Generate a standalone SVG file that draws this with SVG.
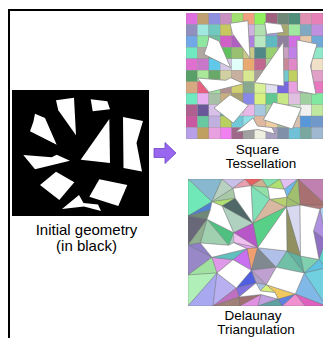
<svg xmlns="http://www.w3.org/2000/svg" xmlns:xlink="http://www.w3.org/1999/xlink" width="323" height="338" viewBox="0 0 323 338">
<style>
  .lbl{font-family:"Liberation Sans",Arial,sans-serif;font-size:13.5px;fill:#000;text-anchor:middle}
  .big{font-size:15px}
  .frame{stroke:#000;stroke-width:2;fill:none}
  .tri polygon{stroke:#6a6a6a;stroke-width:0.5;stroke-opacity:0.7}
  .cells rect{stroke:#777;stroke-width:0.4;stroke-opacity:0.6}
  .shp{fill:#fff}
</style>
<defs>
  <g id="shapes" class="shp">
    <polygon points="56,100.3 74,97.7 76,135.3 58.3,110.3"/>
    <polygon points="90.7,99.3 107.3,101.3 110,109.3 92.7,111.3"/>
    <polygon points="35,113.7 45,118 56.7,144.7 30,131.3 33.3,122"/>
    <polygon points="109.3,119 110,163 80.7,159.7"/>
    <polygon points="123,117 143,121 136.5,143 142,171.5 123.5,168"/>
    <polygon points="23.3,155 51.7,157.3 56.7,154.7 70,160.7 35,169.3"/>
    <polygon points="56,171.7 74.3,182.3 59.3,200 40,185"/>
    <polygon points="99.3,179.3 127.3,185 118.3,206 89.3,196.7"/>
    <polygon points="62,209 79,195 83.5,203 98,204.5 101,211 84,206.5"/>
  </g>
  <clipPath id="clipD"><rect x="188" y="179" width="135" height="127"/></clipPath>
  <clipPath id="clipT"><rect x="186" y="13" width="137" height="126"/></clipPath>
</defs>

<g id="frame">
  <line class="frame" x1="8" y1="10" x2="323" y2="10"/>
  <line class="frame" x1="9" y1="9" x2="9" y2="338"/>
</g>

<g id="initial-geometry">
  <rect x="12" y="90" width="137" height="126" fill="#000"/>
  <use xlink:href="#shapes" href="#shapes"/>
  <text class="lbl big" x="86.5" y="235">Initial geometry</text>
  <text class="lbl big" x="86.5" y="250.5">(in black)</text>
</g>

<g id="square-tessellation">
  <g clip-path="url(#clipT)" class="cells">
    <g transform="translate(186,13)">
      <rect x="0" y="0" width="11.42" height="11.45" fill="#e070e0"/><rect x="11.42" y="0" width="11.42" height="11.45" fill="#c0a070"/><rect x="22.83" y="0" width="11.42" height="11.45" fill="#9090e0"/><rect x="34.25" y="0" width="11.42" height="11.45" fill="#c890c0"/><rect x="45.67" y="0" width="11.42" height="11.45" fill="#a0e070"/><rect x="57.08" y="0" width="11.42" height="11.45" fill="#f0a080"/><rect x="68.5" y="0" width="11.42" height="11.45" fill="#90f060"/><rect x="79.92" y="0" width="11.42" height="11.45" fill="#a06080"/><rect x="91.33" y="0" width="11.42" height="11.45" fill="#708878"/><rect x="102.75" y="0" width="11.42" height="11.45" fill="#50907a"/><rect x="114.17" y="0" width="11.42" height="11.45" fill="#e090b0"/><rect x="125.58" y="0" width="11.42" height="11.45" fill="#e880b8"/>
      <rect x="0" y="11.45" width="11.42" height="11.45" fill="#9090c0"/><rect x="11.42" y="11.45" width="11.42" height="11.45" fill="#a0e8e0"/><rect x="22.83" y="11.45" width="11.42" height="11.45" fill="#70c8c0"/><rect x="34.25" y="11.45" width="11.42" height="11.45" fill="#c8c860"/><rect x="45.67" y="11.45" width="11.42" height="11.45" fill="#e0c0e0"/><rect x="57.08" y="11.45" width="11.42" height="11.45" fill="#d0b0e0"/><rect x="68.5" y="11.45" width="11.42" height="11.45" fill="#b0e0b0"/><rect x="79.92" y="11.45" width="11.42" height="11.45" fill="#a0a0e8"/><rect x="91.33" y="11.45" width="11.42" height="11.45" fill="#a8a870"/><rect x="102.75" y="11.45" width="11.42" height="11.45" fill="#a0e8a0"/><rect x="114.17" y="11.45" width="11.42" height="11.45" fill="#80a8c0"/><rect x="125.58" y="11.45" width="11.42" height="11.45" fill="#c090e0"/>
      <rect x="0" y="22.9" width="11.42" height="11.45" fill="#70a8e8"/><rect x="11.42" y="22.9" width="11.42" height="11.45" fill="#90e8a0"/><rect x="22.83" y="22.9" width="11.42" height="11.45" fill="#70c0a0"/><rect x="34.25" y="22.9" width="11.42" height="11.45" fill="#d060c8"/><rect x="45.67" y="22.9" width="11.42" height="11.45" fill="#b060c0"/><rect x="57.08" y="22.9" width="11.42" height="11.45" fill="#b080e0"/><rect x="68.5" y="22.9" width="11.42" height="11.45" fill="#b8e8c0"/><rect x="79.92" y="22.9" width="11.42" height="11.45" fill="#60b8c0"/><rect x="91.33" y="22.9" width="11.42" height="11.45" fill="#9080a0"/><rect x="102.75" y="22.9" width="11.42" height="11.45" fill="#d070e0"/><rect x="114.17" y="22.9" width="11.42" height="11.45" fill="#e8c8a8"/><rect x="125.58" y="22.9" width="11.42" height="11.45" fill="#70a8d8"/>
      <rect x="0" y="34.35" width="11.42" height="11.45" fill="#70e8c0"/><rect x="11.42" y="34.35" width="11.42" height="11.45" fill="#b0a8a0"/><rect x="22.83" y="34.35" width="11.42" height="11.45" fill="#60c090"/><rect x="34.25" y="34.35" width="11.42" height="11.45" fill="#60c060"/><rect x="45.67" y="34.35" width="11.42" height="11.45" fill="#98c070"/><rect x="57.08" y="34.35" width="11.42" height="11.45" fill="#c8c888"/><rect x="68.5" y="34.35" width="11.42" height="11.45" fill="#508888"/><rect x="79.92" y="34.35" width="11.42" height="11.45" fill="#98d070"/><rect x="91.33" y="34.35" width="11.42" height="11.45" fill="#c8a0c0"/><rect x="102.75" y="34.35" width="11.42" height="11.45" fill="#c080e8"/><rect x="114.17" y="34.35" width="11.42" height="11.45" fill="#d0a0c0"/><rect x="125.58" y="34.35" width="11.42" height="11.45" fill="#90e8c8"/>
      <rect x="0" y="45.8" width="11.42" height="11.45" fill="#e070d0"/><rect x="11.42" y="45.8" width="11.42" height="11.45" fill="#c878c8"/><rect x="22.83" y="45.8" width="11.42" height="11.45" fill="#60c8e8"/><rect x="34.25" y="45.8" width="11.42" height="11.45" fill="#d8c8e8"/><rect x="45.67" y="45.8" width="11.42" height="11.45" fill="#e0fff8"/><rect x="57.08" y="45.8" width="11.42" height="11.45" fill="#e8a870"/><rect x="68.5" y="45.8" width="11.42" height="11.45" fill="#c06890"/><rect x="79.92" y="45.8" width="11.42" height="11.45" fill="#b0d0a0"/><rect x="91.33" y="45.8" width="11.42" height="11.45" fill="#c88898"/><rect x="102.75" y="45.8" width="11.42" height="11.45" fill="#e088c8"/><rect x="114.17" y="45.8" width="11.42" height="11.45" fill="#d8a0d0"/><rect x="125.58" y="45.8" width="11.42" height="11.45" fill="#f0e0c8"/>
      <rect x="0" y="57.25" width="11.42" height="11.45" fill="#58a068"/><rect x="11.42" y="57.25" width="11.42" height="11.45" fill="#a8e898"/><rect x="22.83" y="57.25" width="11.42" height="11.45" fill="#68a868"/><rect x="34.25" y="57.25" width="11.42" height="11.45" fill="#d0d0a0"/><rect x="45.67" y="57.25" width="11.42" height="11.45" fill="#c8b0a0"/><rect x="57.08" y="57.25" width="11.42" height="11.45" fill="#d8e890"/><rect x="68.5" y="57.25" width="11.42" height="11.45" fill="#a8a098"/><rect x="79.92" y="57.25" width="11.42" height="11.45" fill="#c0a0e0"/><rect x="91.33" y="57.25" width="11.42" height="11.45" fill="#70c8d0"/><rect x="102.75" y="57.25" width="11.42" height="11.45" fill="#c0d060"/><rect x="114.17" y="57.25" width="11.42" height="11.45" fill="#d0d0f0"/><rect x="125.58" y="57.25" width="11.42" height="11.45" fill="#e0a0c8"/>
      <rect x="0" y="68.7" width="11.42" height="11.45" fill="#d8a880"/><rect x="11.42" y="68.7" width="11.42" height="11.45" fill="#e86080"/><rect x="22.83" y="68.7" width="11.42" height="11.45" fill="#a0e8a0"/><rect x="34.25" y="68.7" width="11.42" height="11.45" fill="#b09090"/><rect x="45.67" y="68.7" width="11.42" height="11.45" fill="#d0d070"/><rect x="57.08" y="68.7" width="11.42" height="11.45" fill="#88a890"/><rect x="68.5" y="68.7" width="11.42" height="11.45" fill="#d8f098"/><rect x="79.92" y="68.7" width="11.42" height="11.45" fill="#e0e0f0"/><rect x="91.33" y="68.7" width="11.42" height="11.45" fill="#7868e0"/><rect x="102.75" y="68.7" width="11.42" height="11.45" fill="#e8a0e0"/><rect x="114.17" y="68.7" width="11.42" height="11.45" fill="#c0b0d0"/><rect x="125.58" y="68.7" width="11.42" height="11.45" fill="#e878c0"/>
      <rect x="0" y="80.15" width="11.42" height="11.45" fill="#70e8c0"/><rect x="11.42" y="80.15" width="11.42" height="11.45" fill="#e8b0f0"/><rect x="22.83" y="80.15" width="11.42" height="11.45" fill="#a8c0a8"/><rect x="34.25" y="80.15" width="11.42" height="11.45" fill="#c8b080"/><rect x="45.67" y="80.15" width="11.42" height="11.45" fill="#a8a070"/><rect x="57.08" y="80.15" width="11.42" height="11.45" fill="#8888e8"/><rect x="68.5" y="80.15" width="11.42" height="11.45" fill="#d8f080"/><rect x="79.92" y="80.15" width="11.42" height="11.45" fill="#60c890"/><rect x="91.33" y="80.15" width="11.42" height="11.45" fill="#c8e888"/><rect x="102.75" y="80.15" width="11.42" height="11.45" fill="#e0c0e0"/><rect x="114.17" y="80.15" width="11.42" height="11.45" fill="#a0d0a0"/><rect x="125.58" y="80.15" width="11.42" height="11.45" fill="#80e8a0"/>
      <rect x="0" y="91.6" width="11.42" height="11.45" fill="#b06090"/><rect x="11.42" y="91.6" width="11.42" height="11.45" fill="#685898"/><rect x="22.83" y="91.6" width="11.42" height="11.45" fill="#d8c0e8"/><rect x="34.25" y="91.6" width="11.42" height="11.45" fill="#60b0a0"/><rect x="45.67" y="91.6" width="11.42" height="11.45" fill="#e8d0f0"/><rect x="57.08" y="91.6" width="11.42" height="11.45" fill="#e8b8e8"/><rect x="68.5" y="91.6" width="11.42" height="11.45" fill="#a8c8e0"/><rect x="79.92" y="91.6" width="11.42" height="11.45" fill="#a8d8a0"/><rect x="91.33" y="91.6" width="11.42" height="11.45" fill="#d8e0a0"/><rect x="102.75" y="91.6" width="11.42" height="11.45" fill="#c0e8c0"/><rect x="114.17" y="91.6" width="11.42" height="11.45" fill="#f0f0f0"/><rect x="125.58" y="91.6" width="11.42" height="11.45" fill="#c0e8a0"/>
      <rect x="0" y="103.05" width="11.42" height="11.45" fill="#c858a0"/><rect x="11.42" y="103.05" width="11.42" height="11.45" fill="#68c8a0"/><rect x="22.83" y="103.05" width="11.42" height="11.45" fill="#c0b0e0"/><rect x="34.25" y="103.05" width="11.42" height="11.45" fill="#b8d060"/><rect x="45.67" y="103.05" width="11.42" height="11.45" fill="#70c8d8"/><rect x="57.08" y="103.05" width="11.42" height="11.45" fill="#90e0e8"/><rect x="68.5" y="103.05" width="11.42" height="11.45" fill="#e0b8a0"/><rect x="79.92" y="103.05" width="11.42" height="11.45" fill="#f0d0a0"/><rect x="91.33" y="103.05" width="11.42" height="11.45" fill="#a8c098"/><rect x="102.75" y="103.05" width="11.42" height="11.45" fill="#d8c0b0"/><rect x="114.17" y="103.05" width="11.42" height="11.45" fill="#5898d8"/><rect x="125.58" y="103.05" width="11.42" height="11.45" fill="#7098c8"/>
      <rect x="0" y="114.5" width="11.42" height="11.5" fill="#b8a0e8"/><rect x="11.42" y="114.5" width="11.42" height="11.5" fill="#c0a060"/><rect x="22.83" y="114.5" width="11.42" height="11.5" fill="#e8a0e0"/><rect x="34.25" y="114.5" width="11.42" height="11.5" fill="#f080f0"/><rect x="45.67" y="114.5" width="11.42" height="11.5" fill="#a06888"/><rect x="57.08" y="114.5" width="11.42" height="11.5" fill="#a0a0a0"/><rect x="68.5" y="114.5" width="11.42" height="11.5" fill="#f0f0e0"/><rect x="79.92" y="114.5" width="11.42" height="11.5" fill="#a8a0c0"/><rect x="91.33" y="114.5" width="11.42" height="11.5" fill="#8090a8"/><rect x="102.75" y="114.5" width="11.42" height="11.5" fill="#70c0d8"/><rect x="114.17" y="114.5" width="11.42" height="11.5" fill="#78a8a0"/><rect x="125.58" y="114.5" width="11.42" height="11.5" fill="#a0b8d0"/>
    </g>
    <use xlink:href="#shapes" href="#shapes" transform="translate(174,-77)" stroke="#8a8a8a" stroke-width="0.8"/>
  </g>
  <text class="lbl" x="257.5" y="153.5">Square</text>
  <text class="lbl" x="261" y="168">Tessellation</text>
</g>

<g id="delaunay-triangulation">
  <g clip-path="url(#clipD)">
    <rect x="188" y="179" width="138" height="127" fill="#a8c8c0"/>
    <g class="tri">
      <polygon points="188,179 222,179 212,201.7" fill="#88b8d0"/>
      <polygon points="188,179 212,201.7 188,216" fill="#70e8b8"/>
      <polygon points="222,179 233,188.3 212,201.7" fill="#b8d0c0"/>
      <polygon points="222,179 245,179 233,188.3" fill="#c8c0e8"/>
      <polygon points="245,179 251,185.7 233,188.3" fill="#e8a0b0"/>
      <polygon points="245,179 262,179 251,185.7" fill="#e86060"/>
      <polygon points="262,179 267.7,187.3 251,185.7" fill="#d0b090"/>
      <polygon points="262,179 280,179 267.7,187.3" fill="#80e0b0"/>
      <polygon points="280,179 284.3,189.3 267.7,187.3" fill="#b0e070"/>
      <polygon points="280,179 298,179 284.3,189.3" fill="#e0c0f0"/>
      <polygon points="298,179 326,179 326,205" fill="#c080b0"/>
      <polygon points="298,179 326,205 300,205" fill="#a87070"/>
      <polygon points="326,205 320,209.3 300,205" fill="#b07878"/>
      <polygon points="298,179 284.3,189.3 287,197.3" fill="#70b8e8"/>
      <polygon points="298,179 287,197.3 300,205" fill="#a0c070"/>
      <polygon points="233,188.3 235.3,198.3 212,201.7" fill="#a8c8a8"/>
      <polygon points="235.3,198.3 222,206 212,201.7" fill="#b0e070"/>
      <polygon points="235.3,198.3 253,223.3 222,206" fill="#506868"/>
      <polygon points="253,223.3 233.7,232.7 222,206" fill="#b0d0c0"/>
      <polygon points="251,185.7 267.7,187.3 269.7,199.3" fill="#90e0a8"/>
      <polygon points="251,185.7 269.7,199.3 253,223.3" fill="#80e0b8"/>
      <polygon points="269.7,199.3 286.3,207 253,223.3" fill="#d8b8a0"/>
      <polygon points="269.7,199.3 287,197.3 286.3,207" fill="#b8d070"/>
      <polygon points="287,197.3 300,205 286.3,207" fill="#a0c070"/>
      <polygon points="253,223.3 286.3,207 257.7,247.7" fill="#58d088"/>
      <polygon points="253,223.3 257.7,247.7 233.7,232.7" fill="#b858c8"/>
      <polygon points="233.7,232.7 257.7,247.7 233.7,242.7" fill="#f0c0f0"/>
      <polygon points="233.7,242.7 257.7,247.7 247,248.7" fill="#e0a0f0"/>
      <polygon points="207,219.3 233.7,232.7 228.7,245.3" fill="#50c080"/>
      <polygon points="207,219.3 228.7,245.3 200.3,243" fill="#a0d0b0"/>
      <polygon points="188,216 212,201.7 210.3,210" fill="#5080d0"/>
      <polygon points="188,216 210.3,210 207,219.3" fill="#708878"/>
      <polygon points="188,216 207,219.3 188,245" fill="#686878"/>
      <polygon points="207,219.3 200.3,243 188,245" fill="#90b090"/>
      <polygon points="188,245 200.3,243 212,257.3" fill="#9080c8"/>
      <polygon points="188,245 212,257.3 188,275" fill="#9888c8"/>
      <polygon points="188,275 212,257.3 217,273" fill="#a0e0a0"/>
      <polygon points="188,275 217,273 188,306" fill="#b0f0b8"/>
      <polygon points="188,306 217,273 213,306" fill="#a8a8f0"/>
      <polygon points="217,273 236.3,288 213,306" fill="#b8b0f0"/>
      <polygon points="212,257.3 233,259.7 217,273" fill="#e098e8"/>
      <polygon points="212,257.3 247,248.7 233,259.7" fill="#60c0c0"/>
      <polygon points="247,248.7 257.7,247.7 251.3,270.3" fill="#f0a070"/>
      <polygon points="247,248.7 251.3,270.3 233,259.7" fill="#c870f0"/>
      <polygon points="257.7,247.7 276.3,267.3 251.3,270.3" fill="#808890"/>
      <polygon points="257.7,247.7 287,251 276.3,267.3" fill="#b0c0e8"/>
      <polygon points="287,251 300.5,256 304.3,273" fill="#60b0a0"/>
      <polygon points="287,251 304.3,273 276.3,267.3" fill="#70c0a8"/>
      <polygon points="286.3,207 300,205 300.5,256" fill="#d8d8f0"/>
      <polygon points="286.3,207 300.5,256 287,251" fill="#909060"/>
      <polygon points="320,209.3 326,205 326,240" fill="#b0d0f0"/>
      <polygon points="320,209.3 326,240 313.5,231" fill="#b090e0"/>
      <polygon points="313.5,231 326,240 319,259.5" fill="#9070c0"/>
      <polygon points="319,259.5 326,240 326,268" fill="#60d0d0"/>
      <polygon points="300.5,256 319,259.5 304.3,273" fill="#80d0b0"/>
      <polygon points="319,259.5 326,268 304.3,273" fill="#60c0e0"/>
      <polygon points="304.3,273 326,268 326,306" fill="#70d0e0"/>
      <polygon points="304.3,273 326,306 295.3,294" fill="#80b8e8"/>
      <polygon points="295.3,294 326,306 305,306" fill="#e060c0"/>
      <polygon points="295.3,294 305,306 282,306" fill="#f090d0"/>
      <polygon points="295.3,294 282,306 278,299" fill="#6080e0"/>
      <polygon points="266.3,284.7 295.3,294 278,299" fill="#f0c860"/>
      <polygon points="266.3,284.7 278,299 275,292.5" fill="#c0a8e8"/>
      <polygon points="251.3,270.3 276.3,267.3 266.3,284.7" fill="#c0a0d0"/>
      <polygon points="251.3,270.3 266.3,284.7 256,283" fill="#b0a0c8"/>
      <polygon points="256,283 266.3,284.7 260,291" fill="#a8c0e0"/>
      <polygon points="260,291 266.3,284.7 275,292.5" fill="#d8f080"/>
      <polygon points="236.3,288 251.3,270.3 256,283" fill="#5060e0"/>
      <polygon points="236.3,288 256,283 239,297" fill="#8070e0"/>
      <polygon points="213,306 236.3,288 239,297" fill="#c070c0"/>
      <polygon points="213,306 239,297 240,306" fill="#a08078"/>
      <polygon points="240,306 239,297 261,294.5" fill="#a07070"/>
      <polygon points="240,306 261,294.5 258,306" fill="#e090e0"/>
      <polygon points="258,306 261,294.5 278,299" fill="#c0a0e0"/>
      <polygon points="258,306 278,299 282,306" fill="#60a0a0"/>
    </g>
    <use xlink:href="#shapes" href="#shapes" transform="translate(177,88)" stroke="#7a7a7a" stroke-width="0.5"/>
  </g>
  <text class="lbl" x="253" y="320">Delaunay</text>
  <text class="lbl" x="256" y="334">Triangulation</text>
</g>

<g id="connectors">
  <polygon points="154,148.5 165,148.5 165,142.5 176,153 165,163.5 165,157.5 154,157.5" fill="#9966f0" stroke="#6a44c0" stroke-width="0.8"/>
</g>
</svg>
